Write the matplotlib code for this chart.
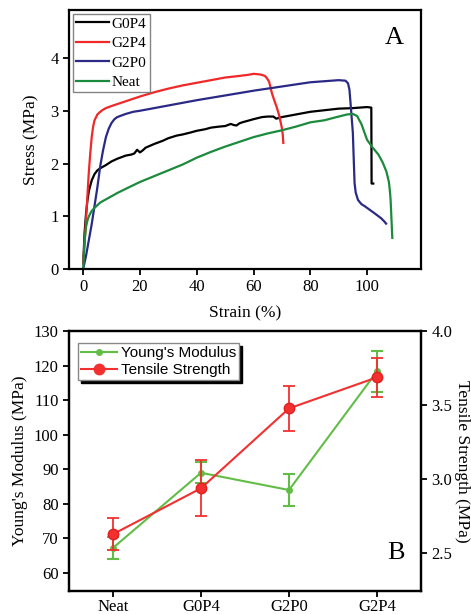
import numpy as np
import matplotlib.pyplot as plt
from matplotlib.lines import Line2D

plt.rcParams['font.family'] = ['Liberation Serif', 'DejaVu Serif']

# --- panel A: stress-strain curves
g0p4_strain = [0, 0.5, 1, 1.5, 2, 2.5, 3, 4, 5, 6, 8, 10, 12, 15, 17, 18, 19, 20, 21, 22, 25, 28,
               30, 33, 35, 38, 40, 43, 45, 48, 50, 52, 53, 54, 55, 56, 58, 60, 63, 65, 67, 68, 70,
               75, 80, 85, 90, 95, 100, 101.5, 101.6, 102.2]
g0p4_stress = [0.1, 0.7, 1.05, 1.3, 1.48, 1.58, 1.68, 1.8, 1.87, 1.91, 1.97, 2.04, 2.09, 2.15, 2.17, 2.19,
               2.26, 2.21, 2.25, 2.3, 2.37, 2.43, 2.48, 2.53, 2.55, 2.59, 2.62, 2.65, 2.68, 2.7, 2.71,
               2.75, 2.73, 2.72, 2.76, 2.78, 2.81, 2.84, 2.88, 2.89, 2.89, 2.85, 2.88, 2.93, 2.98,
               3.01, 3.04, 3.05, 3.07, 3.06, 1.62, 1.62]

g2p4_strain = [0, 0.5, 1, 1.5, 2, 2.5, 3, 3.5, 4, 5, 6, 7, 8, 10, 15, 20, 25, 30, 35, 40, 45, 50,
               55, 58, 60, 62, 63, 64, 64.7, 65.5, 66.5, 67.3, 68.1, 69, 69.9, 70.3, 70.5]
g2p4_stress = [0.1, 0.5, 0.95, 1.4, 1.85, 2.2, 2.5, 2.7, 2.82, 2.93, 2.98, 3.02, 3.05, 3.09, 3.18, 3.27,
               3.35, 3.42, 3.48, 3.53, 3.58, 3.63, 3.66, 3.68, 3.70, 3.69, 3.68, 3.66, 3.62, 3.55,
               3.33, 3.2, 3.08, 2.92, 2.7, 2.55, 2.39]

g2p0_strain = [0, 1, 2, 3, 4, 5, 6, 7, 8, 9, 10, 11, 12, 13, 15, 17.6, 20, 30, 40, 50, 60, 70, 80,
               85, 90, 92.4, 93.3, 93.8, 94.4, 95, 95.3, 95.6, 96, 96.8, 98, 99.2, 101, 103.3,
               105, 106.1, 106.7]
g2p0_stress = [0, 0.25, 0.55, 0.85, 1.2, 1.55, 1.95, 2.25, 2.5, 2.66, 2.77, 2.84, 2.88, 2.9, 2.94, 2.98,
               3.0, 3.1, 3.2, 3.29, 3.38, 3.46, 3.54, 3.56, 3.58, 3.57, 3.52, 3.40, 3.0, 2.58,
               2.1, 1.63, 1.45, 1.31, 1.23, 1.19, 1.12, 1.03, 0.96, 0.90, 0.86]

neat_strain = [0, 0.5, 1, 1.5, 2, 3, 4, 5, 6, 8, 10, 12, 15, 20, 25, 30, 35, 40, 45, 50, 55, 60,
               65, 70, 75, 80, 85, 90, 93, 95, 96.5, 98, 100, 102, 104, 105.5, 106.8, 107.7,
               108.1, 108.3, 108.6, 108.9]
neat_stress = [0, 0.55, 0.8, 0.92, 1.0, 1.1, 1.16, 1.21, 1.26, 1.32, 1.38, 1.44, 1.52, 1.65, 1.76,
               1.87, 1.98, 2.11, 2.22, 2.32, 2.41, 2.5, 2.57, 2.63, 2.7, 2.78, 2.82, 2.89, 2.93,
               2.94, 2.9, 2.75, 2.45, 2.3, 2.17, 2.02, 1.85, 1.65, 1.45, 1.31, 0.95, 0.59]

# --- panel B: moduli and strengths
samples = ['Neat', 'G0P4', 'G2P0', 'G2P4']
youngs = [67.2, 89.0, 84.0, 118.4]
youngs_err = [3.2, 3.0, 4.7, 5.9]
tensile = [2.63, 2.94, 3.48, 3.69]
tensile_err = [0.11, 0.19, 0.15, 0.13]

fig = plt.figure(figsize=(4.71, 6.14), dpi=100)

ax1 = fig.add_axes([0.1465, 0.5619, 0.7473, 0.4218])
ax1.plot(g0p4_strain, g0p4_stress, color='black', lw=1.6, label='G0P4')
ax1.plot(g2p4_strain, g2p4_stress, color='#f02828', lw=1.6, label='G2P4')
ax1.plot(g2p0_strain, g2p0_stress, color='#2a2a86', lw=1.6, label='G2P0')
ax1.plot(neat_strain, neat_stress, color='#1c8a3c', lw=1.6, label='Neat')
ax1.set_xlim(-5, 119)
ax1.set_ylim(0, 4.91)
ax1.set_xticks([0, 20, 40, 60, 80, 100])
ax1.set_yticks([0, 1, 2, 3, 4])
ax1.set_xlabel('Strain (%)', fontsize=12.5, labelpad=7)
ax1.set_ylabel('Stress (MPa)', fontsize=12.5, labelpad=8)
ax1.tick_params(direction='out', width=1.3, length=4, labelsize=12, top=False, right=False)
for s in ax1.spines.values():
    s.set_linewidth(1.6)
leg = ax1.legend(loc='upper left', fontsize=11, handlelength=2.15, handletextpad=0.2,
                 borderpad=0.2, labelspacing=0.38, fancybox=False, edgecolor='#666666',
                 borderaxespad=0.25)
leg.get_frame().set_linewidth(1.0)
ax1.text(0.925, 0.89, 'A', transform=ax1.transAxes, fontsize=19, ha='center', va='center')

ax2 = fig.add_axes([0.1465, 0.0375, 0.7473, 0.4226])
ax3 = ax2.twinx()
x = np.arange(len(samples))
ax2.errorbar(x, youngs, yerr=youngs_err, color='#62bd46', lw=1.5, marker='o', ms=4,
             capsize=4, capthick=1.5, elinewidth=1.5, zorder=3)
ax3.errorbar(x, tensile, yerr=tensile_err, color='#f23030', lw=1.5, marker='o', ms=7.5,
             mec='#e02020', capsize=4, capthick=1.3, elinewidth=1.3, zorder=4)
ax2.set_xlim(-0.5, 3.5)
ax2.set_ylim(54.7, 130)
ax3.set_ylim(2.246, 4.0)
ax2.set_xticks(x)
ax2.set_xticklabels(samples)
ax2.set_yticks(np.arange(60, 131, 10))
ax3.set_yticks([2.5, 3.0, 3.5, 4.0])
ax3.set_yticklabels(['2.5', '3.0', '3.5', '4.0'])
ax2.set_ylabel("Young's Modulus (MPa)", fontsize=12.5, labelpad=4)
ax3.set_ylabel('Tensile Strength (MPa)', fontsize=12.5, rotation=270, labelpad=13)
ax2.tick_params(direction='out', width=1.3, length=4, labelsize=12)
ax2.tick_params(axis='x', pad=2)
ax3.tick_params(direction='out', width=1.3, length=4, labelsize=12)
for s in ax3.spines.values():
    s.set_linewidth(1.6)
for s in ax2.spines.values():
    s.set_linewidth(1.6)

handles = [Line2D([], [], color='#62bd46', lw=1.5, marker='o', ms=4),
           Line2D([], [], color='#f23030', lw=1.5, marker='o', ms=7.5)]
leg2 = ax3.legend(handles, ["Young's Modulus", 'Tensile Strength'], loc='upper left',
                  prop={'family': 'Liberation Sans', 'size': 11}, handlelength=2.3,
                  handletextpad=0.3, borderpad=0.2, labelspacing=0.2, fancybox=False,
                  shadow={'color': 'black', 'alpha': 1}, edgecolor='#888888',
                  bbox_to_anchor=(0.005, 0.985))
leg2.get_frame().set_linewidth(1.0)
fig.text(396 / 471, 1 - 553 / 614, 'B', fontsize=19, ha='center', va='center')

fig.savefig('out.png', dpi=100)
